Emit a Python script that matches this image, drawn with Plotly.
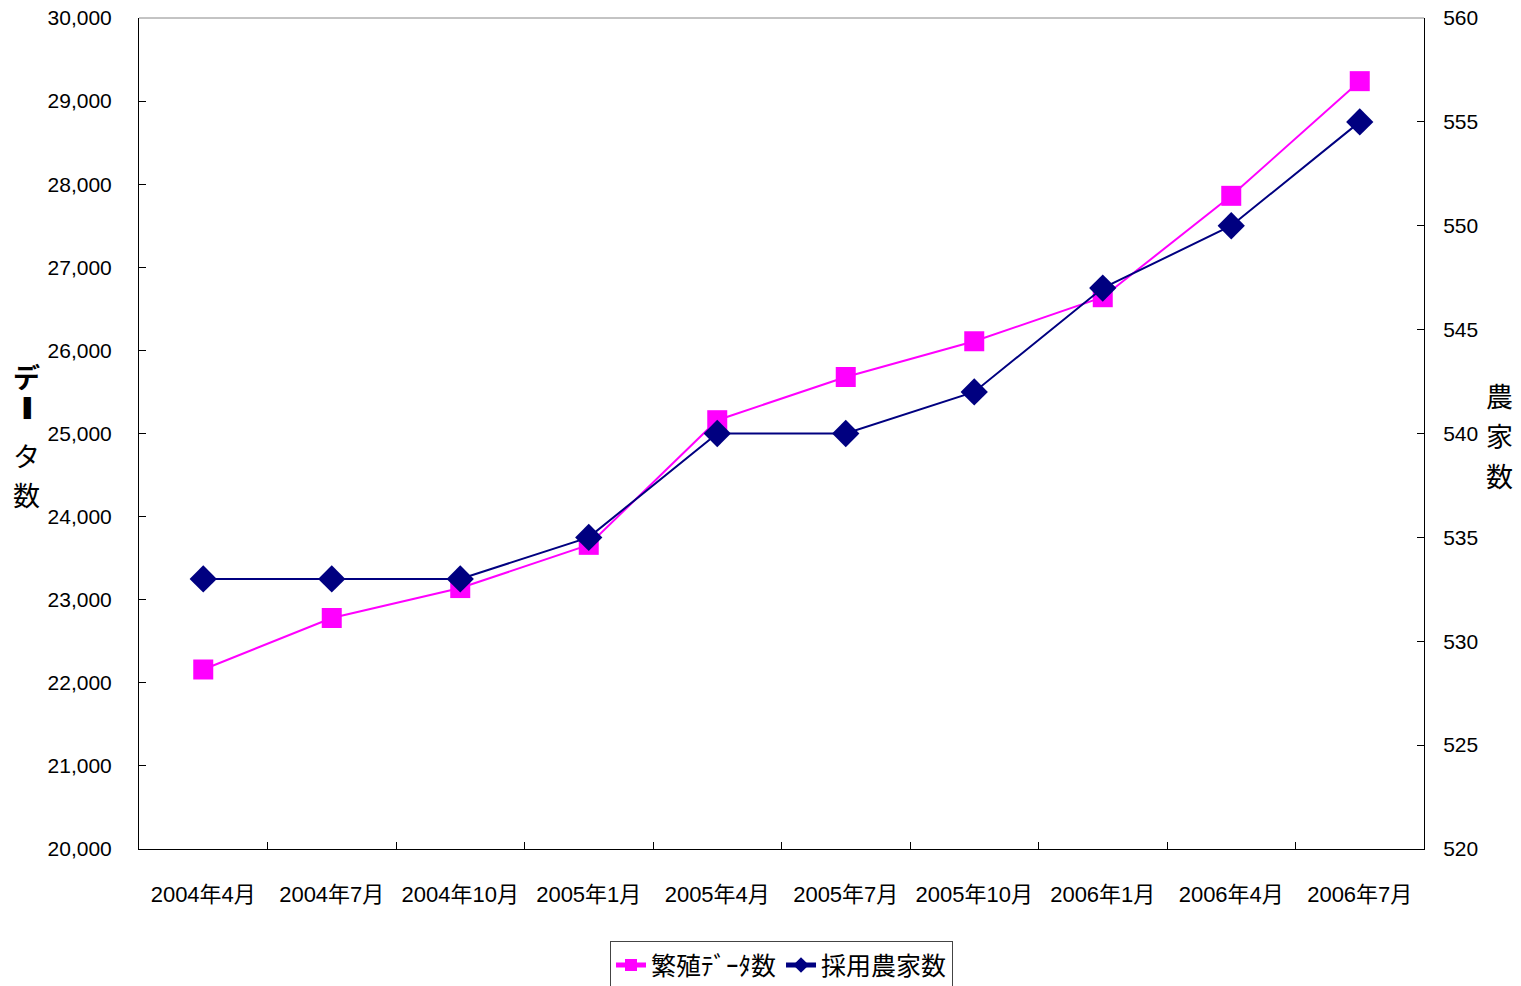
import plotly.graph_objects as go

categories = ["2004年4月", "2004年7月", "2004年10月", "2005年1月", "2005年4月",
              "2005年7月", "2005年10月", "2006年1月", "2006年4月", "2006年7月"]
breeding_data = [22160, 22780, 23140, 23660, 25160, 25680, 26110, 26640, 27860, 29240]
farms = [533, 533, 533, 535, 540, 540, 542, 547, 550, 555]

FONT = "Liberation Sans, Arial, Noto Sans CJK JP, sans-serif"
CJK = "Noto Sans CJK JP"

fig = go.Figure()
fig.add_trace(go.Scatter(
    x=categories, y=breeding_data, name="繁殖ﾃﾞｰﾀ数", mode="lines+markers",
    line=dict(color="#FF00FF", width=2),
    marker=dict(symbol="square", size=20, color="#FF00FF"),
    yaxis="y"))
fig.add_trace(go.Scatter(
    x=categories, y=farms, name="採用農家数", mode="lines+markers",
    line=dict(color="#000080", width=2),
    marker=dict(symbol="diamond", size=21, color="#000080"),
    yaxis="y2"))


def char_ann(ch, x, y, size=27, family=CJK):
    return dict(text=ch, xref="paper", yref="paper", x=x, y=y,
                xanchor="center", yanchor="middle", showarrow=False,
                font=dict(size=size, family=family))


annotations = [
    char_ann("<b>デ</b>", -0.0872, 0.568),
    char_ann("❚", -0.0872, 0.532, size=22, family="DejaVu Sans"),
    char_ann("タ", -0.0872, 0.474),
    char_ann("数", -0.0872, 0.427),
    char_ann("農", 1.059, 0.546),
    char_ann("家", 1.059, 0.498),
    char_ann("数", 1.059, 0.450),
]

fig.update_layout(
    width=1521, height=986,
    margin=dict(l=139, r=97, t=18, b=137, autoexpand=False),
    paper_bgcolor="white", plot_bgcolor="white",
    font=dict(family=FONT, size=21, color="black"),
    showlegend=True,
    legend=dict(orientation="h", x=0.5, xanchor="center", y=-0.111, yanchor="top",
                bordercolor="#444", borderwidth=1, font=dict(size=25, family=CJK),
                itemsizing="constant", tracegroupgap=0),
    xaxis=dict(type="category", showgrid=False, showline=True, linecolor="black",
               linewidth=1, ticks="inside", tickson="boundaries", ticklen=7,
               tickcolor="black", ticklabelstandoff=26, range=[-0.5, 9.5],
               tickangle=0, automargin=False, tickfont=dict(size=22)),
    yaxis=dict(range=[20000, 30000], dtick=1000, tickformat=",", showgrid=False,
               showline=True, linecolor="black", linewidth=1, ticks="inside",
               ticklen=7, tickcolor="black", ticklabelstandoff=22, zeroline=False,
               automargin=False),
    yaxis2=dict(range=[520, 560], dtick=5, overlaying="y", side="right",
                showgrid=False, showline=True, linecolor="black", linewidth=1,
                ticks="inside", ticklen=7, tickcolor="black",
                ticklabelstandoff=14, zeroline=False, automargin=False),
    shapes=[dict(type="line", xref="paper", yref="paper", x0=0, x1=1, y0=1, y1=1,
                 line=dict(color="#888", width=1))],
    annotations=annotations,
)

fig.write_html("out.html")
